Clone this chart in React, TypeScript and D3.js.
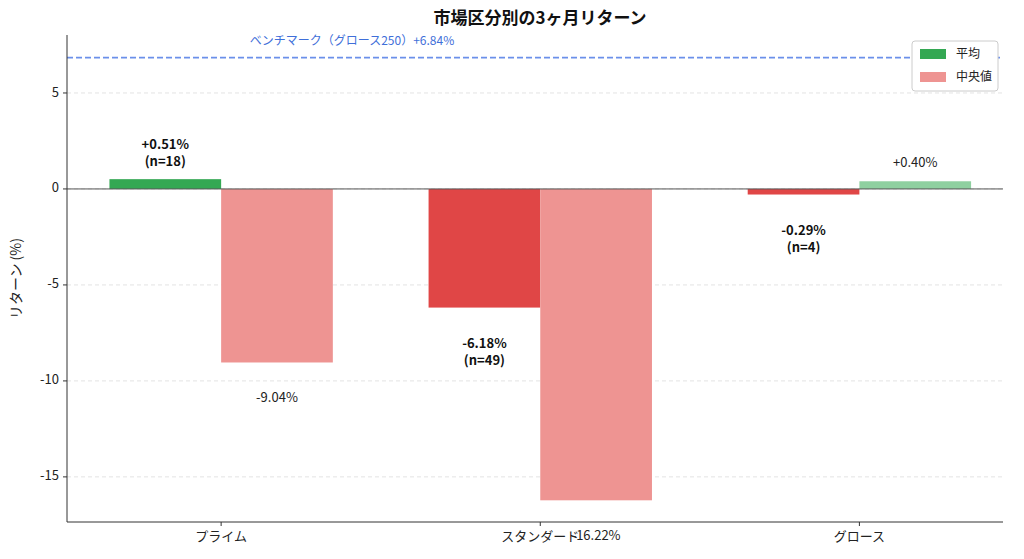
import * as d3 from "d3";

const categories = ["プライム", "スタンダード", "グロース"];
const meanValues = [0.51, -6.18, -0.29];
const medianValues = [-9.04, -16.22, 0.4];
const counts = [18, 49, 4];
const yTicks = [-15, -10, -5, 0, 5];
const benchmark = 6.84;
const benchmarkLabel = "ベンチマーク（グロース250）+6.84%";

const W = 1024;
const H = 559;
const m = { left: 67, right: 1003, top: 35, bottom: 522 };
const font = "'Noto Sans CJK JP', 'Noto Sans', sans-serif";

const fmt = (v: number) => (v > 0 ? "+" : "") + v.toFixed(2) + "%";

export default function App() {
  const x = d3.scaleLinear().domain([-0.483, 2.45]).range([m.left, m.right]);
  const y = d3.scaleLinear().domain([-17.35, 8.02]).range([m.bottom, m.top]);
  const bw = x(0.35) - x(0);
  const y0 = y(0);

  return (
    <svg width={W} height={H} style={{ position: "absolute", left: 0, top: 0 }} fontFamily={font}>
      <rect width={W} height={H} fill="#fff" />
      {yTicks.map((t) => (
        <g key={t}>
          <line x1={m.left} x2={m.right} y1={y(t)} y2={y(t)} stroke="#e3e3e3" strokeDasharray="4 3" />
          <line x1={m.left - 4} x2={m.left} y1={y(t)} y2={y(t)} stroke="#333" />
          <text x={m.left - 8} y={y(t)} textAnchor="end" dominantBaseline="middle" fontSize={13} fill="#222">
            {t}
          </text>
        </g>
      ))}
      {categories.map((c, i) => {
        const cx = x(i);
        const mv = meanValues[i];
        const md = medianValues[i];
        const meanColor = mv >= 0 ? "#34a853" : "#e04646";
        const medColor = md >= 0 ? "#8fd0a0" : "#ee9492";
        return (
          <g key={c}>
            <rect x={cx - bw} y={Math.min(y(mv), y0)} width={bw} height={Math.abs(y(mv) - y0)} fill={meanColor} />
            <rect x={cx} y={Math.min(y(md), y0)} width={bw} height={Math.abs(y(md) - y0)} fill={medColor} />
            <text x={cx - bw / 2} y={mv >= 0 ? y(mv) - 30 : y(mv) + 40} textAnchor="middle" fontSize={13} fontWeight="bold" fill="#111">
              <tspan x={cx - bw / 2} dy={0}>{fmt(mv)}</tspan>
              <tspan x={cx - bw / 2} dy={17}>(n={counts[i]})</tspan>
            </text>
            <text x={cx + bw / 2} y={md >= 0 ? y(md) - 14 : y(md) + 40} textAnchor="middle" fontSize={13} fill="#222">
              {fmt(md)}
            </text>
            <line x1={cx} x2={cx} y1={m.bottom} y2={m.bottom + 4} stroke="#333" />
            <text x={cx} y={m.bottom + 19} textAnchor="middle" fontSize={13} fill="#222">{c}</text>
          </g>
        );
      })}
      <line x1={m.left} x2={m.right} y1={y0} y2={y0} stroke="#555" strokeWidth={1} />
      <line x1={m.left} x2={m.right} y1={y(benchmark)} y2={y(benchmark)} stroke="#6b90ea" strokeWidth={1.6} strokeDasharray="6 3" />
      <text x={352} y={y(benchmark) - 13} textAnchor="middle" fontSize={12} fill="#3f6fd9">{benchmarkLabel}</text>
      <line x1={m.left} x2={m.left} y1={m.top} y2={m.bottom} stroke="#333" />
      <line x1={m.left} x2={m.right} y1={m.bottom} y2={m.bottom} stroke="#333" />
      <text x={540} y={24} textAnchor="middle" fontSize={17} fontWeight="bold" fill="#111">市場区分別の3ヶ月リターン</text>
      <text transform={`translate(21,${(m.top + m.bottom) / 2}) rotate(-90)`} textAnchor="middle" fontSize={14} fill="#222">リターン (%)</text>
      <g transform="translate(912,41)">
        <rect width={86} height={50} rx={3} fill="#fff" stroke="#ccc" />
        <rect x={8} y={8} width={26} height={10} fill="#34a853" />
        <text x={44} y={17} fontSize={12} fill="#222">平均</text>
        <rect x={8} y={31} width={26} height={10} fill="#ee9492" />
        <text x={44} y={40} fontSize={12} fill="#222">中央値</text>
      </g>
    </svg>
  );
}
